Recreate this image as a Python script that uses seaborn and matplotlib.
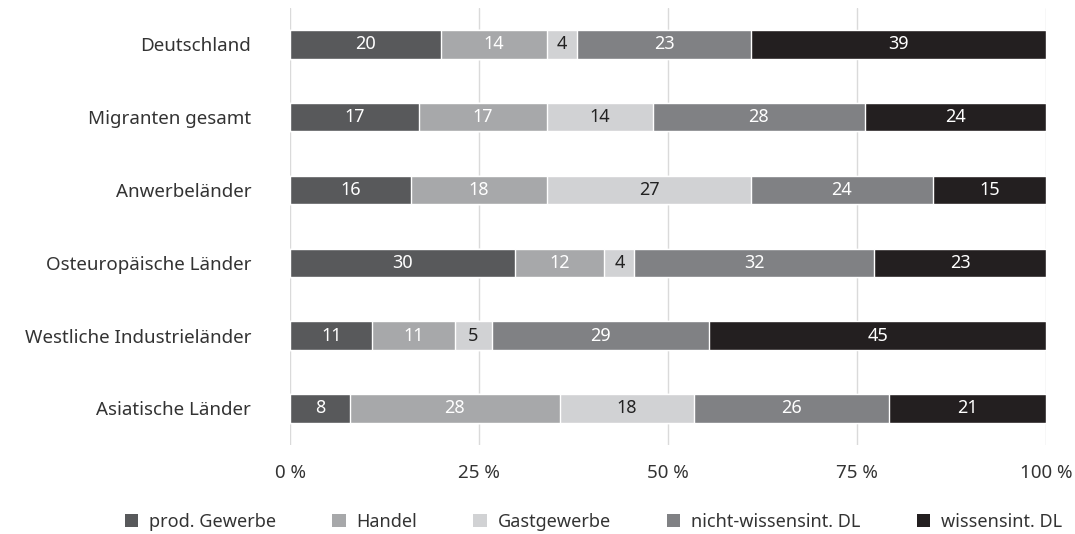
import numpy as np
import pandas as pd
import matplotlib.pyplot as plt
import seaborn as sns
from matplotlib.patches import Patch

regions = ['Deutschland', 'Migranten gesamt', 'Anwerbeländer', 'Osteuropäische Länder',
           'Westliche Industrieländer', 'Asiatische Länder']
sectors = ['prod. Gewerbe', 'Handel', 'Gastgewerbe', 'nicht-wissensint. DL', 'wissensint. DL']
prod = [20, 17, 16, 30, 11, 8]
handel = [14, 17, 18, 12, 11, 28]
gast = [4, 14, 27, 4, 5, 18]
nicht_wiss = [23, 28, 24, 32, 29, 26]
wiss = [39, 24, 15, 23, 45, 21]
colors = ['#58595b', '#a7a8aa', '#d1d2d4', '#808184', '#231f20']
text_colors = ['white', 'white', '#222222', 'white', 'white']

sns.set_style("white")
plt.rcParams['font.family'] = ['Noto Sans', 'DejaVu Sans']

vals = np.array([prod, handel, gast, nicht_wiss, wiss], dtype=float).T
shares = vals / vals.sum(axis=1, keepdims=True) * 100
cum = shares.cumsum(axis=1)

fig = plt.figure(figsize=(10.75, 5.34), dpi=100)
ax = fig.add_axes([0.2698, 0.167, 0.7033, 0.818])

for i in range(len(sectors) - 1, -1, -1):
    df = pd.DataFrame({'region': regions, 'x': cum[:, i]})
    sns.barplot(data=df, x='x', y='region', color=colors[i], width=0.39,
                saturation=1, ax=ax, zorder=2)

for r in range(len(regions)):
    for i in range(len(sectors)):
        left = cum[r, i] - shares[r, i]
        ax.text(left + shares[r, i] / 2, r, f'{int(vals[r, i])}', ha='center', va='center',
                color=text_colors[i], fontsize=13, zorder=3)

ax.set_xlim(0, 100)
ax.set_ylim(5.5, -0.5)
ax.set_xticks([0, 25, 50, 75, 100])
ax.set_xticklabels(['0 %', '25 %', '50 %', '75 %', '100 %'])
ax.xaxis.grid(True, color='#dadada', linewidth=1, zorder=0)
ax.set_axisbelow(True)
ax.set_xlabel('')
ax.set_ylabel('')
for s in ax.spines.values():
    s.set_visible(False)
ax.tick_params(axis='both', length=0, labelsize=13.5, colors='#333333')
ax.tick_params(axis='y', pad=28)
ax.tick_params(axis='x', pad=14)

handles = [Patch(facecolor=c, edgecolor='none') for c in colors]
fig.legend(handles, sectors, loc='lower center', bbox_to_anchor=(0.552, -0.025), ncol=5,
           frameon=False, fontsize=13, handlelength=0.75, handleheight=0.75,
           handletextpad=0.6, columnspacing=3.1, labelcolor='#333333')

plt.savefig('out.png', dpi=100)
